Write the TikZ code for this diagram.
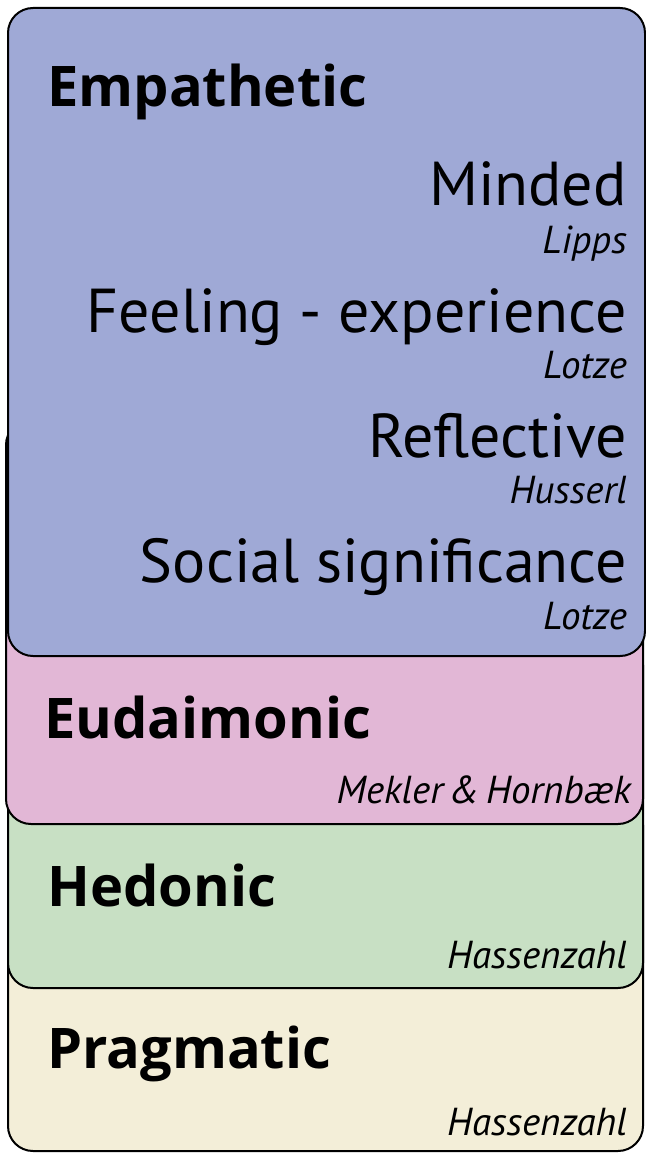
\documentclass[tikz,border=0pt]{standalone}
\usepackage{fontspec}
\setmainfont{PT Sans}
\newfontfamily\headfont{Open Sans}
\definecolor{empblue}{RGB}{159,169,214}
\definecolor{eudpink}{RGB}{226,183,214}
\definecolor{hedgreen}{RGB}{200,224,196}
\definecolor{pragyellow}{RGB}{243,238,216}
\tikzset{
  layerbox/.style={draw=black, line width=2pt, rounded corners=25pt},
  heading/.style={anchor=base west, inner sep=0pt, font=\headfont\fontsize{56}{62}\selectfont\bfseries},
  itemtext/.style={anchor=base east, inner sep=0pt, font=\fontsize{62}{68}\selectfont},
  author/.style={anchor=base east, inner sep=0pt, font=\fontsize{39}{44}\selectfont\itshape}
}
\begin{document}
\begin{tikzpicture}[x=1pt,y=-1pt]
\useasboundingbox (0,0) rectangle (645,1153);
% layered boxes, back to front
\draw[layerbox, fill=pragyellow] (8,800) rectangle (643,1151);
\draw[layerbox, fill=hedgreen] (8,640) rectangle (643,988);
\draw[layerbox, fill=eudpink] (6,420) rectangle (643,824);
\draw[layerbox, fill=empblue] (8,8) rectangle (645,656);
% Empathetic
\node[heading] (emp) at (47,107) {Empathetic};
\node[itemtext] (minded) at (627,205) {Minded};
\node[author] (lipps) at (627,253) {Lipps};
\node[itemtext] (feeling) at (627,332) {Feeling - experience};
\node[author] (lotze1) at (627,378) {Lotze};
\node[itemtext] (reflective) at (627,457) {Reflective};
\node[author] (husserl) at (627,503) {Husserl};
\node[itemtext] (social) at (627,582) {Social significance};
\node[author] (lotze2) at (627,629) {Lotze};
% Eudaimonic
\node[heading] (eud) at (44,738) {Eudaimonic};
\node[author] (mekler) at (631,803) {Mekler\,\&\,Hornbæk};
% Hedonic
\node[heading] (hed) at (47,906) {Hedonic};
\node[author] (hass1) at (627,968) {Hassenzahl};
% Pragmatic
\node[heading] (prag) at (47,1068) {Pragmatic};
\node[author] (hass2) at (627,1135) {Hassenzahl};
\end{tikzpicture}
\end{document}
